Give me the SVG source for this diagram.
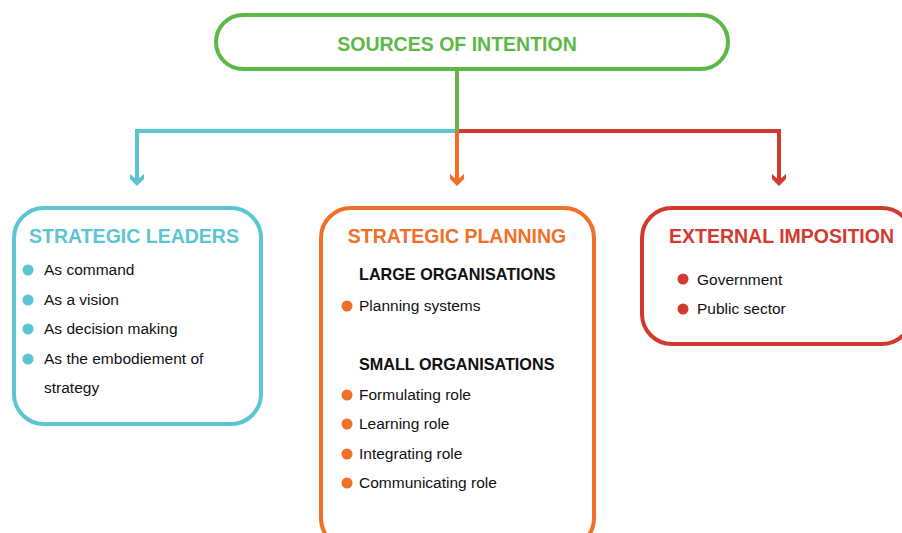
<svg xmlns="http://www.w3.org/2000/svg" width="902" height="533" viewBox="0 0 902 533">
<defs>
<style>
text{font-family:"Liberation Sans",Arial,sans-serif}
.t{font-weight:bold;font-size:19.5px}
.h{font-weight:bold;font-size:16.2px;fill:#111}
.i{font-size:15.5px;fill:#111}
.box{fill:#fff;stroke-width:4}
.ln{fill:none;stroke-width:4}
</style>
</defs>
<rect width="902" height="533" fill="#fff"/>
<g id="connectors">
<path class="ln" stroke="#5bc5d1" d="M457,131 H137 V180"/>
<path class="ln" stroke="#d33a2f" d="M457,131 H779 V180"/>
<path class="ln" stroke="#f07028" d="M457,131 V180"/>
<path class="ln" stroke="#5cb947" d="M457,70 V131"/>
<path d="M130,174 L137,180 L144,174 L144,179 L137,186 L130,179 Z" fill="#5bc5d1"/>
<path d="M450,174 L457,180 L464,174 L464,179 L457,186 L450,179 Z" fill="#f07028"/>
<path d="M772,174 L779,180 L786,174 L786,179 L779,186 L772,179 Z" fill="#d33a2f"/>
</g>
<g id="sources">
<rect class="box" x="216" y="15" width="512" height="54" rx="27" stroke="#5cb947"/>
<text class="t" x="457" y="51" text-anchor="middle" fill="#5cb947">SOURCES OF INTENTION</text>
</g>
<g id="leaders">
<rect class="box" x="14" y="208" width="247" height="216" rx="30" stroke="#5bc5d1"/>
<text class="t" x="134" y="243" text-anchor="middle" fill="#5bc5d1">STRATEGIC LEADERS</text>
<g fill="#5bc5d1"><circle cx="28" cy="270" r="5.5"/><circle cx="28" cy="300" r="5.5"/><circle cx="28" cy="329" r="5.5"/><circle cx="28" cy="359" r="5.5"/></g>
<text class="i" x="44" y="275">As command</text>
<text class="i" x="44" y="305">As a vision</text>
<text class="i" x="44" y="334">As decision making</text>
<text class="i" x="44" y="364">As the embodiement of</text>
<text class="i" x="44" y="393">strategy</text>
</g>
<g id="planning">
<rect class="box" x="321" y="208" width="273" height="340" rx="30" stroke="#f07028"/>
<text class="t" x="457" y="243" text-anchor="middle" fill="#f07028">STRATEGIC PLANNING</text>
<text class="h" x="359" y="280">LARGE ORGANISATIONS</text>
<text class="h" x="359" y="370">SMALL ORGANISATIONS</text>
<g fill="#f07028"><circle cx="347" cy="306" r="5.5"/><circle cx="347" cy="395" r="5.5"/><circle cx="347" cy="424" r="5.5"/><circle cx="347" cy="454" r="5.5"/><circle cx="347" cy="483" r="5.5"/></g>
<text class="i" x="359" y="311">Planning systems</text>
<text class="i" x="359" y="400">Formulating role</text>
<text class="i" x="359" y="429">Learning role</text>
<text class="i" x="359" y="459">Integrating role</text>
<text class="i" x="359" y="488">Communicating role</text>
</g>
<g id="external">
<rect class="box" x="642" y="208" width="270" height="136" rx="30" stroke="#d33a2f"/>
<text class="t" x="669" y="243" fill="#d33a2f">EXTERNAL IMPOSITION</text>
<g fill="#d33a2f"><circle cx="683" cy="279" r="5.5"/><circle cx="683" cy="309" r="5.5"/></g>
<text class="i" x="697" y="285">Government</text>
<text class="i" x="697" y="314">Public sector</text>
</g>
</svg>
